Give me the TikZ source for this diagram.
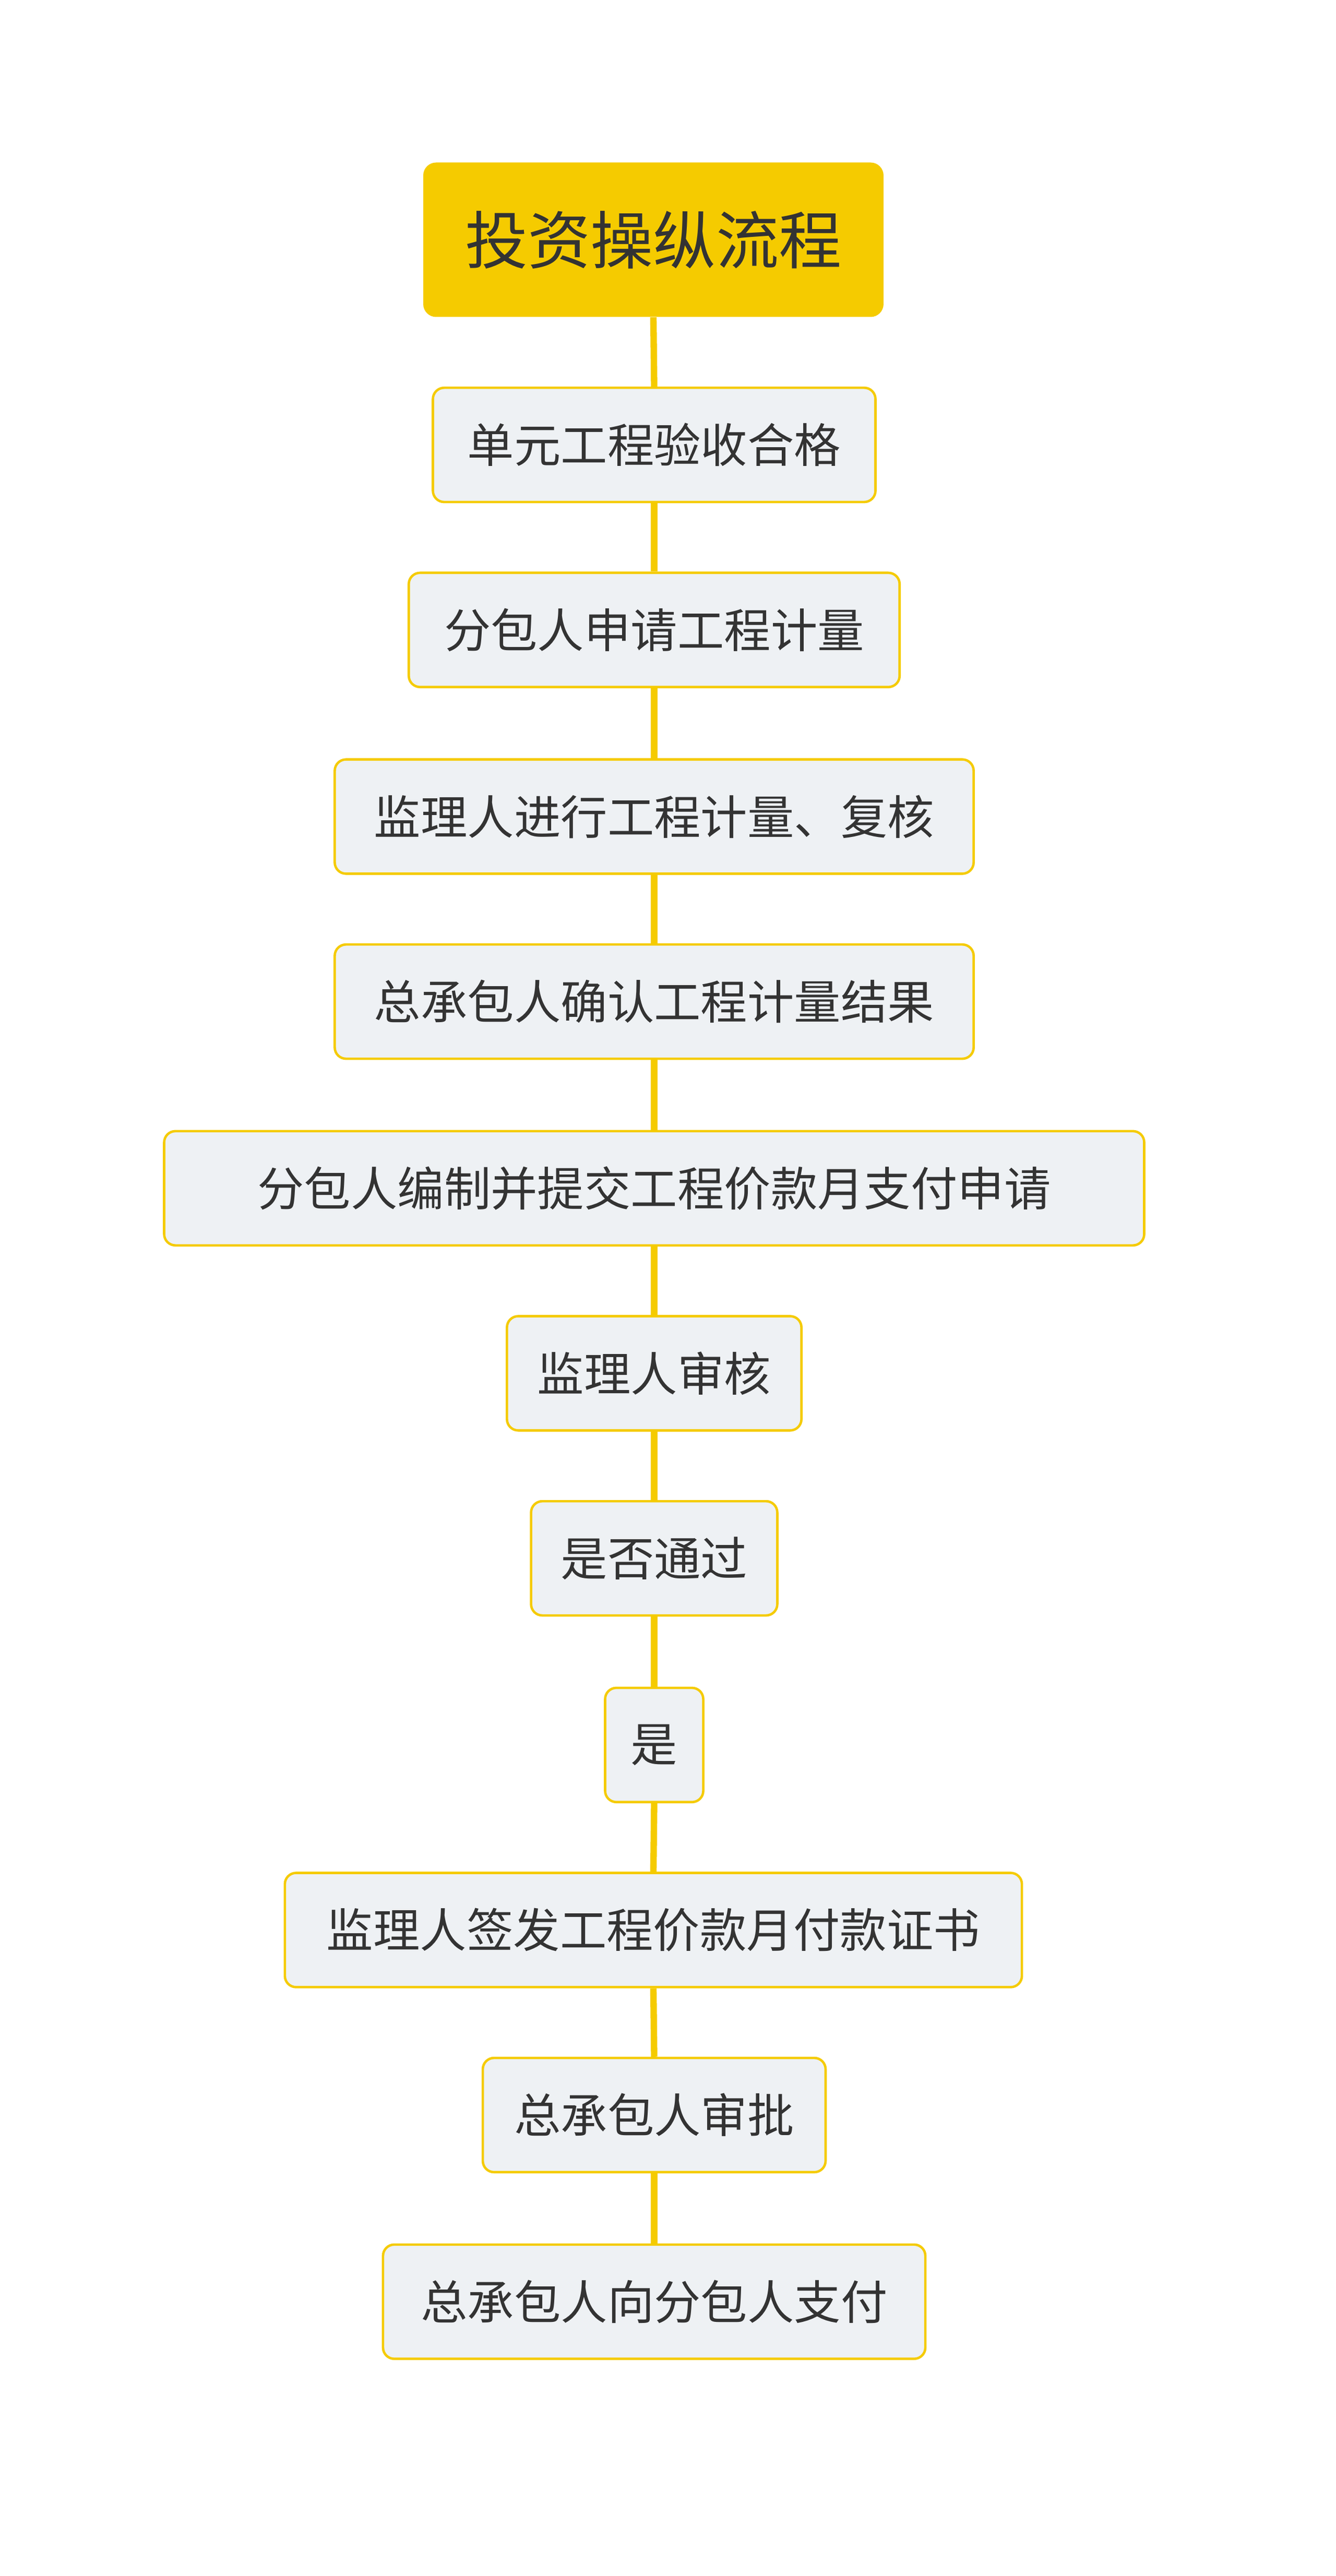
\documentclass[tikz,border=0pt]{standalone}
\usepackage{fontspec}
\newfontfamily\cjk{Noto Sans CJK SC}
\definecolor{gold}{HTML}{F5CB00}
\definecolor{boxfill}{HTML}{EEF1F4}
\definecolor{txt}{HTML}{333333}
\begin{document}
\begin{tikzpicture}[x=1pt,y=-1pt,
  box/.style={draw=gold,line width=1.5pt,fill=boxfill,rounded corners=7pt,inner sep=0pt,
    text=txt,font=\cjk\fontsize{29}{34}\selectfont,minimum height=71pt},
  title/.style={fill=gold,rounded corners=8pt,inner sep=0pt,text=txt,
    font=\cjk\fontsize{39}{46}\selectfont,minimum height=96pt,minimum width=286pt},
  link/.style={draw=gold,line width=4pt}]
\useasboundingbox (0,0) rectangle (830,1601);
\node[title] (n1) at (406,149) {投资操纵流程};
\node[box,minimum width=275pt] (n2) at (406.5,276.5) {单元工程验收合格};
\node[box,minimum width=305pt] (n3) at (406.5,391.5) {分包人申请工程计量};
\node[box,minimum width=397pt] (n4) at (406.5,507.5) {监理人进行工程计量、复核};
\node[box,minimum width=397pt] (n5) at (406.5,622.5) {总承包人确认工程计量结果};
\node[box,minimum width=609pt] (n6) at (406.5,738.5) {分包人编制并提交工程价款月支付申请};
\node[box,minimum width=183pt] (n7) at (406.5,853.5) {监理人审核};
\node[box,minimum width=153pt] (n8) at (406.5,968.5) {是否通过};
\node[box,minimum width=61pt] (n9) at (406.5,1084.5) {是};
\node[box,minimum width=458pt] (n10) at (406,1199.5) {监理人签发工程价款月付款证书};
\node[box,minimum width=213pt] (n11) at (406.5,1314.5) {总承包人审批};
\node[box,minimum width=337pt] (n12) at (406.5,1430.5) {总承包人向分包人支付};
\foreach \a/\b in {n1/n2,n2/n3,n3/n4,n4/n5,n5/n6,n6/n7,n7/n8,n8/n9,n9/n10,n10/n11,n11/n12}
  \draw[link] (\a.south) -- (\b.north);
\end{tikzpicture}
\end{document}
